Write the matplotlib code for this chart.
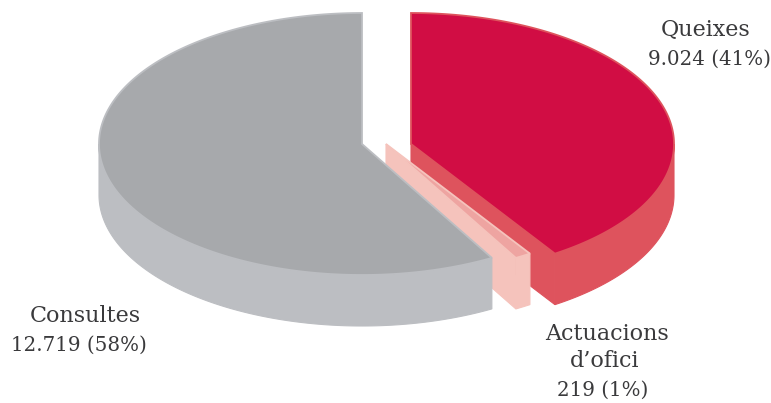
import numpy as np
import matplotlib.pyplot as plt
from matplotlib.patches import Polygon

# Dades
labels = [["Queixes", "9.024 (41%)"], ["Actuacions", "d’ofici", "219 (1%)"], ["Consultes", "12.719 (58%)"]]
values = [9024, 219, 12719]

top_colors = ["#d10d44", "#eea4a1", "#a7a9ac"]
wall_colors = ["#de535d", "#f5c3bc", "#bcbec2"]
centers = [(411, 144), (386, 144), (362, 144)]  # porcions separades
text_pos = [[(706, 30), (709, 59)], [(607, 334), (605, 361), (603, 390)], [(85, 316), (79, 345)]]
text_size = [[16, 14.3], [16, 16, 14.3], [16, 14.3]]

a, b = 263, 131  # semieixos de l'el·lipse
depth = 51
cut_turn = -1.1  # els talls interiors queden una mica girats a l'original

plt.rcParams['font.family'] = ['DejaVu Serif']
fig = plt.figure(figsize=(7.71, 4.03), dpi=100)
ax = fig.add_axes([0, 0, 1, 1])
ax.set_xlim(0, 771)
ax.set_ylim(403, 0)
ax.axis('off')


def arc(c, t0, t1):
    t = np.radians(np.linspace(t0, t1, 200))
    return np.column_stack([c[0] + a * np.sin(t), c[1] - b * np.cos(t)])


edges = 360 * np.cumsum([0] + values) / sum(values)
edges[1:-1] += cut_turn

# de la porció del fons a la del davant: vermell, rosa, gris
for i in range(3):
    c = centers[i]
    t0, t1 = edges[i], edges[i + 1]
    shift = np.array([0, depth])
    apex = np.array(c, dtype=float)
    # cara del tall, només vermell i rosa la mostren
    if i < 2:
        p = arc(c, t1, t1)[0]
        face = [apex, p, p + shift, apex + shift]
        ax.add_patch(Polygon(face, fc=wall_colors[i], ec=wall_colors[i], lw=0.8, zorder=i * 3 + 1))
    # paret corba
    w0, w1 = max(t0, 90), min(t1, 270)
    top = arc(c, w0, w1)
    ax.add_patch(Polygon(np.vstack([top, (top + shift)[::-1]]), fc=wall_colors[i], ec=wall_colors[i], lw=0.8, zorder=i * 3 + 2))
    # cara superior
    ax.add_patch(Polygon(np.vstack([[apex], arc(c, t0, t1)]), fc=top_colors[i], ec=wall_colors[i], lw=1.3, zorder=i * 3 + 3))

for lines, pos, sizes in zip(labels, text_pos, text_size):
    for s, (x, y), fs in zip(lines, pos, sizes):
        ax.text(x, y, s, ha='center', va='center', fontsize=fs, color="#3a3a3c")

fig.savefig("out.png", dpi=100)
